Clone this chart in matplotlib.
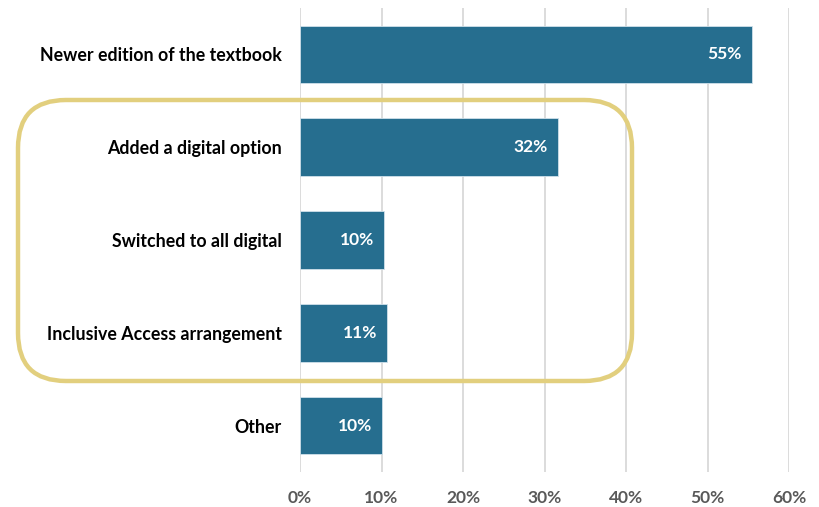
import matplotlib.pyplot as plt
from matplotlib.patches import FancyBboxPatch

#data
categories = ['Newer edition of the textbook', 'Added a digital option', 'Switched to all digital',
              'Inclusive Access arrangement', 'Other']
values = [55.4, 31.6, 10.3, 10.7, 10.1]
labels = ['55%', '32%', '10%', '11%', '10%']
ticks = [0, 10, 20, 30, 40, 50, 60]

plt.rcParams['font.family'] = ['Lato', 'DejaVu Sans']

fig = plt.figure(figsize=(8.19, 5.07), dpi=100)
ax = fig.add_axes([300/819, 1 - 472/507, 489/819, 464/507])

y = list(range(len(categories)))
bars = ax.barh(y, values, height=0.62, color='#266E8F', edgecolor='#cfe0ea', linewidth=0.6, zorder=3)
#labels inside the bar end
txts = ax.bar_label(bars, labels=labels, padding=-7, color='white', fontsize=12.5, fontweight='bold')
for t in txts:
    t.set_ha('right')

ax.set_xlim(0, 60)
ax.set_ylim(4.5, -0.5)
ax.set_xticks(ticks)
ax.set_xticklabels([f'{t}%' for t in ticks], fontsize=12.5, fontweight='bold', color='#595959')
ax.set_yticks(y)
ax.set_yticklabels(categories, fontsize=12.8, fontweight='bold', color='black')
ax.tick_params(axis='both', length=0)
ax.tick_params(axis='x', pad=13)
ax.tick_params(axis='y', pad=13)
ax.grid(axis='x', color='#D9D9D9', linewidth=1.3, zorder=0)
for s in ax.spines.values():
    s.set_visible(False)

#highlight box around the digital options
box = FancyBboxPatch((18, 507 - 381), 614, 281, boxstyle='round,pad=0,rounding_size=48',
                     transform=None, fill=False, edgecolor='#E2CF7E', linewidth=3.2, zorder=5)
fig.patches.append(box)

fig.savefig('out.png', dpi=100)
